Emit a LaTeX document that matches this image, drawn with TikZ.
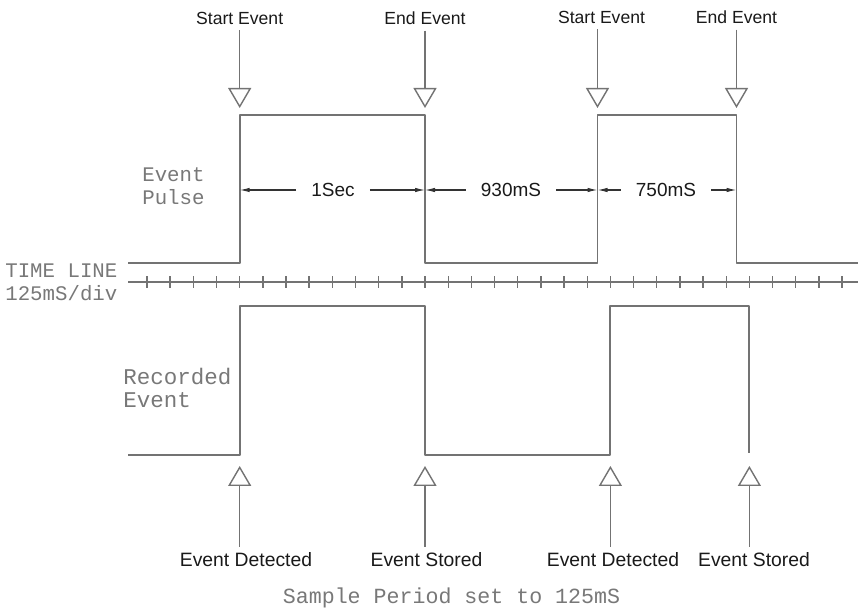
\documentclass[tikz,border=0pt]{standalone}
\usepackage{fontspec}
\setmainfont{Liberation Sans}
\newfontfamily\cadfont{Liberation Mono}
\usetikzlibrary{arrows.meta}
\definecolor{linegray}{RGB}{115,115,115}
\definecolor{cadgray}{RGB}{120,120,120}
\begin{document}
\begin{tikzpicture}[
  sig/.style={draw=linegray, line width=1.1pt, line join=round},
  lbl/.style={font=\fontsize{10}{12}\selectfont, text=black!90},
  cad/.style={font=\cadfont\fontsize{11.8}{13}\selectfont, text=cadgray, align=left, inner sep=0pt},
  ev/.style={draw=linegray, line width=0.8pt, -{Triangle[open,length=0.4cm,width=0.46cm]}},
  dim/.style={draw=black!80, line width=0.6pt, -{Latex[length=0.2cm,width=0.09cm]}},
  dimtxt/.style={font=\fontsize{10.8}{12}\selectfont, text=black!90, inner xsep=0.3cm, inner ysep=0pt}]
\useasboundingbox (0,0) rectangle (17.2,12.24);

\path[sig] (2.56,6.98) -- (4.794,6.98) -- (4.794,9.94) -- (8.50,9.94) -- (8.50,6.98) -- (11.95,6.98)
  -- (11.95,9.94) -- (14.73,9.94) -- (14.73,6.98) -- (17.16,6.98);
\path[sig] (2.56,3.14) -- (4.794,3.14) -- (4.794,6.12) -- (8.50,6.12) -- (8.50,3.14) -- (12.208,3.14)
  -- (12.208,6.12) -- (14.988,6.12) -- (14.988,3.18);

\path[sig] (2.56,6.60) -- (17.16,6.60);
\foreach \i in {0,...,30}
  \path[draw=linegray, line width=0.8pt] ({2.94+0.4634*\i},6.48) -- ++(0,0.24);

\node[cad, anchor=west] (pulse) at (2.84,8.51) {Event\\Pulse};
\node[cad, anchor=west] (time) at (0.1,6.60) {TIME LINE\\125mS/div};
\node[cad, anchor=west, font=\cadfont\fontsize{12.8}{13}\selectfont] (rec) at (2.46,4.48) {Recorded\\Event};
\node[cad, font=\cadfont\fontsize{12.3}{13}\selectfont] (period) at (9.03,0.28) {Sample Period set to 125mS};

\node[lbl] (s1) at (4.794,11.88) {Start Event};
\node[lbl] (e1) at (8.50,11.88) {End Event};
\node[lbl] (s2) at (12.03,11.90) {Start Event};
\node[lbl] (e2) at (14.73,11.90) {End Event};
\coordinate (s1p) at (4.794,10.08);
\coordinate (e1p) at (8.50,10.08);
\coordinate (s2p) at (11.95,10.08);
\coordinate (e2p) at (14.73,10.08);
\path[ev] (s1.south -| s1p) -- (s1p);
\path[ev] (e1) -- (e1p);
\path[ev] (s2.south -| s2p) -- (s2p);
\path[ev] (e2) -- (e2p);

\node[lbl, font=\fontsize{11}{12}\selectfont] (d1) at (4.92,1.04) {Event Detected};
\node[lbl, font=\fontsize{11}{12}\selectfont] (t1) at (8.53,1.04) {Event Stored};
\node[lbl, font=\fontsize{11}{12}\selectfont] (d2) at (12.26,1.04) {Event Detected};
\node[lbl, font=\fontsize{11}{12}\selectfont] (t2) at (15.08,1.04) {Event Stored};
\coordinate (d1p) at (4.794,2.92);
\coordinate (t1p) at (8.50,2.92);
\coordinate (d2p) at (12.208,2.92);
\coordinate (t2p) at (14.988,2.92);
\path[ev] (d1.north -| d1p) -- (d1p);
\path[ev] (t1.north -| t1p) -- (t1p);
\path[ev] (d2.north -| d2p) -- (d2p);
\path[ev] (t2.north -| t2p) -- (t2p);

\coordinate (p1) at (4.794,8.44);
\coordinate (p2) at (8.50,8.44);
\coordinate (p3) at (11.95,8.44);
\coordinate (p4) at (14.73,8.44);
\node[dimtxt] (w1) at (6.66,8.44) {1Sec};
\node[dimtxt] (w2) at (10.22,8.44) {930mS};
\node[dimtxt] (w3) at (13.32,8.44) {750mS};
\path[dim] (w1) -- (p1);
\path[dim] (w1) -- (p2);
\path[dim] (w2) -- (p2);
\path[dim] (w2) -- (p3);
\path[dim] (w3) -- (p3);
\path[dim] (w3) -- (p4);
\end{tikzpicture}
\end{document}
